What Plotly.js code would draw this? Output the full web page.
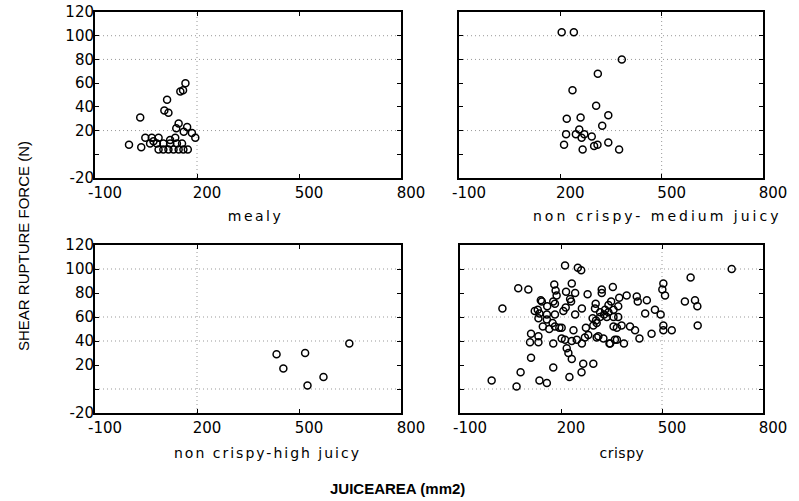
<!DOCTYPE html>
<html><head><meta charset="utf-8">
<script src="https://cdn.plot.ly/plotly-3.0.1.min.js"></script>
<style>body{margin:0;background:#fff}#chart{width:799px;height:501px}</style>
</head><body><div id="chart"></div>
<script>
// ---- data ----
const mealyX = [0, 36, 33, 48, 67, 87, 62, 82, 101, 121, 141, 156, 87, 101, 116, 131, 146, 160, 173, 136, 146, 171, 139, 161, 185, 195, 112, 104, 116, 166, 151, 159, 72, 121];
const mealyY = [8, 6, 31, 14, 14, 14, 9, 9, 9, 9, 9, 9, 4, 4, 4, 4, 4, 4, 4, 14, 26, 23, 22, 19, 18, 14, 46, 37, 35, 60, 53, 54, 11, 12];

const mediumX = [204, 240, 382, 311, 236, 306, 219, 260, 342, 324, 217, 256, 246, 271, 263, 293, 211, 266, 300, 310, 342, 374];
const mediumY = [103, 103, 80, 68, 54, 41, 30, 31, 33, 24, 17, 21, 17, 17, 14, 15, 8, 4, 7, 8, 10, 4];

const highX = [434, 454, 518, 525, 572, 648];
const highY = [29, 17, 30, 3, 10, 38];

const crispyX = [212, 250, 260, 73, 103, 26, 180, 184, 187, 232, 215, 242, 279, 321, 321, 354, 143, 177, 230, 262,
  214, 303, 349, 373, 395, 425, 428, 455, 504, 501, 509, 585, 707, 568, 598, 605, 606, 450, 479, 496,
  504, 529, 504, 469, 433, 420, 405, 380, 366, 356, 387, 360, 344, 326, 311, 122, 136, 158, 182, 133,
  158, 175, 195, 146, 165, 182, 202, 111, 133, 108, 133, 177, 202, 212, 232, 247, 262, 271, 281, 237,
  274, 296, 304, 316, 328, 341, 356, 370, 316, 336, 356, 370, 294, 306, 306, 346, 366, 301, 331, 341,
  217, 222, 232, 111, 266, 296, 261, 177, 225, 80, -6, 68, 136, 158, 159, 131, 227, 207, 242, 140, 182];
const crispyY = [103, 101, 99, 84, 83, 67, 87, 82, 78, 88, 81, 80, 79, 83, 80, 85, 73, 73, 73, 67,
  68, 71, 73, 76, 78, 77, 73, 74, 88, 83, 78, 93, 100, 73, 74, 69, 53, 63, 66, 62,
  53, 49, 49, 46, 42, 49, 52, 53, 51, 52, 38, 41, 38, 42, 44, 65, 63, 62, 62, 59,
  58, 55, 51, 52, 50, 52, 51, 46, 44, 39, 39, 38, 42, 41, 40, 41, 38, 43, 45, 49,
  51, 53, 57, 60, 62, 64, 66, 69, 64, 60, 60, 60, 59, 55, 43, 38, 41, 67, 66, 70,
  34, 30, 25, 26, 21, 21, 14, 18, 10, 14, 7, 2, 7, 5, 69, 66, 75, 65, 62, 74, 71];

const panelNames = ["mealy", "non crispy- medium juicy", "non crispy-high juicy", "crispy"];
const xTicks = [-100, 200, 500, 800];
const xTickText = ["-100", "200", "500", "800"];
const yTicks = [-20, 0, 20, 40, 60, 80, 100, 120];
const yTickText = ["-20", "", "20", "40", "60", "80", "100", "120"];
const gridYTop = [100, 80, 20];
const gridYBottom = [100, 60, 40, 0];
const gridXLeft = 200;
const gridXRight = 500;
const yTitle = "SHEAR RUPTURE FORCE (N)";
const xTitle = "JUICEAREA (mm2)";

// ---- drawing ----
const W = 799, H = 501;
const marker = {symbol: "circle-open", size: 7, color: "#000", line: {width: 1.5, color: "#000"}};
const series = [[mealyX, mealyY], [mediumX, mediumY], [highX, highY], [crispyX, crispyY]];
const suffix = ["", "2", "3", "4"];
const traces = series.map((s, i) => ({
  type: "scatter", mode: "markers", x: s[0], y: s[1],
  xaxis: "x" + suffix[i], yaxis: "y" + suffix[i], marker: marker, showlegend: false, hoverinfo: "skip"
}));

const xDom = [[95 / W, 401 / W], [459 / W, 763 / W], [95 / W, 401 / W], [460 / W, 763 / W]];
const yDom = [[1 - 178 / H, 1 - 12 / H], [1 - 178 / H, 1 - 12 / H], [1 - 413 / H, 1 - 245 / H], [1 - 413 / H, 1 - 245 / H]];
const tickFont = {family: "DejaVu Sans", size: 15, color: "#000"};
const gridLine = {color: "#999", width: 1, dash: "1px,3px"};

const layout = {
  width: W, height: H, margin: {l: 0, r: 0, t: 0, b: 0},
  paper_bgcolor: "#fff", plot_bgcolor: "#fff", showlegend: false,
  shapes: [], annotations: []
};
for (let i = 0; i < 4; i++) {
  const s = suffix[i];
  layout["xaxis" + s] = {
    domain: xDom[i], range: [-100, 800], anchor: "y" + s,
    tickmode: "array", tickvals: xTicks, ticktext: xTickText, ticks: "inside", ticklen: 4, tickcolor: "#000",
    showline: true, linewidth: 2, linecolor: "#000", mirror: "ticks",
    showgrid: false, zeroline: false, tickfont: tickFont, ticklabelshift: 10
  };
  layout["yaxis" + s] = {
    domain: yDom[i], range: [-20, 120], anchor: "x" + s,
    tickmode: "array", tickvals: yTicks, ticktext: yTickText, ticks: "inside", ticklen: 4, tickcolor: "#000",
    showline: true, linewidth: 2, linecolor: "#000", mirror: "ticks",
    showgrid: false, zeroline: false, tickfont: tickFont, showticklabels: (i % 2 === 0),
    ticklabelstandoff: -4
  };
  const gy = i < 2 ? gridYTop : gridYBottom;
  gy.forEach(v => layout.shapes.push({type: "line", xref: "x" + s + " domain", x0: 0, x1: 1, yref: "y" + s, y0: v, y1: v,
    line: gridLine, layer: "below"}));
  const gx = (i % 2 === 0) ? gridXLeft : gridXRight;
  layout.shapes.push({type: "line", yref: "y" + s + " domain", y0: 0, y1: 1, xref: "x" + s, x0: gx, x1: gx,
    line: gridLine, layer: "below"});
}
const subPos = [[255, 216], [657, 216], [267, 453], [622, 453]];
const subSpacing = ["2.5px", "3px", "2px", "0.5px"];
panelNames.forEach((t, i) => layout.annotations.push({
  text: t, xref: "paper", yref: "paper", x: subPos[i][0] / W, y: 1 - subPos[i][1] / H,
  xanchor: "center", yanchor: "middle", showarrow: false,
  font: {family: "DejaVu Sans", size: 14, color: "#000"}
}));
layout.annotations.push({text: yTitle, xref: "paper", yref: "paper", x: 23 / W, y: 1 - 246 / H,
  xanchor: "center", yanchor: "middle", textangle: -90, showarrow: false,
  font: {family: "Liberation Sans", size: 15, color: "#000"}});
layout.annotations.push({text: xTitle, xref: "paper", yref: "paper", x: 397 / W, y: 1 - 488 / H,
  xanchor: "center", yanchor: "middle", showarrow: false,
  font: {family: "Liberation Sans Narrow, Liberation Sans", size: 15, color: "#000", weight: "bold"}});

Plotly.newPlot("chart", traces, layout, {staticPlot: true, displayModeBar: false}).then(gd => {
  // letter-spaced panel captions, as in the original
  gd.querySelectorAll("text.annotation-text").forEach(el => {
    const idx = panelNames.indexOf(el.textContent);
    if (idx >= 0) el.style.letterSpacing = subSpacing[idx];
  });
});
</script>
</body></html>
